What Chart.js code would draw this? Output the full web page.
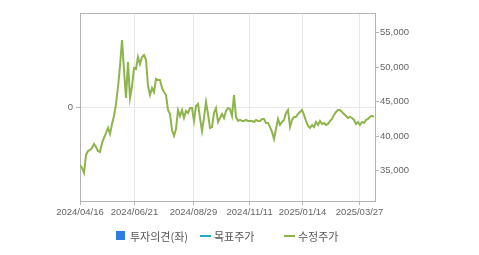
<!DOCTYPE html>
<html>
<head>
<meta charset="utf-8">
<script src="https://cdn.jsdelivr.net/npm/chart.js@4"></script>
<style>
  body { margin: 0; background: #fff; }
  #wrap { position: relative; width: 479px; height: 255px; }
  .lg { position: absolute; top: 228px; font: 11px "Noto Sans CJK KR", sans-serif; color: #555; line-height: 16px; white-space: nowrap; }
  .sq { position: absolute; left: 116px; top: 231px; width: 9px; height: 9px; background: #2f7de1; }
  .ln { position: absolute; top: 235px; width: 11px; height: 2px; }
</style>
</head>
<body>
<div id="wrap">
  <canvas id="chart" width="479" height="255"></canvas>
  <div class="sq"></div><div class="lg" style="left:130px">투자의견(좌)</div>
  <div class="ln" style="left:200px;background:#25a9c6"></div><div class="lg" style="left:214px">목표주가</div>
  <div class="ln" style="left:284px;background:#8db54b"></div><div class="lg" style="left:298px">수정주가</div>
</div>
<script>
// 수정주가, roughly every other trading day
const prices = [
  35830, 35390, 34670, 37280, 37850, 38000, 38290, 38870, 38430, 37850,
  37710, 39010, 39740, 40460, 41190, 40320, 41770, 42930, 44670, 47130,
  50170, 53940, 49600, 45540, 50750, 45540, 47270, 49880, 49740, 51480,
  50460, 51480, 51770, 51040, 47270, 45970, 46990, 46410, 48290, 48150,
  48150, 46990, 46410, 45970, 43800, 43220, 40900, 40030, 41040, 43800,
  42930, 43800, 42640, 43650, 43360, 44080, 44080, 42200, 44380, 44670,
  42640, 40750, 42640, 44960, 43220, 41190, 41330, 43360, 44080, 42060,
  42640, 43220, 42640, 43650, 44080, 43940, 42930, 45970, 42790, 42200,
  42350, 42200, 42200, 42350, 42200, 42200, 42200, 42060, 42350, 42200,
  42200, 42490, 42490, 41920, 41920, 41330, 40610, 39590, 41040, 42490,
  41620, 42060, 42350, 43360, 43800, 41330, 42350, 42790, 42790, 43220,
  43510, 43800, 43080, 42200, 41480, 41190, 41620, 41330, 42060, 41620,
  42200, 41770, 41920, 41620, 41770, 42200, 42490, 43080, 43510, 43800,
  43800, 43510, 43220, 42930, 42640, 42790, 42640, 42350, 41770, 42060,
  41620, 42060, 41920, 42350, 42490, 42790, 42930, 42790
];
const dateTicks = [0, 27.2, 56.7, 84.8, 111.3, 139.8];
const dateLabels = ['2024/04/16', '2024/06/21', '2024/08/29', '2024/11/11', '2025/01/14', '2025/03/27'];
const priceTicks = [35000, 40000, 45000, 50000, 55000];
const opinionTicks = [0];

const green = '#8db54b';
const frame = '#b4b4b4';
const gridColor = '#e8e8e8';
const tickFont = { family: 'Liberation Sans, Arial, sans-serif', size: 9.5 };

const points = prices.map((p, i) => ({ x: i, y: p }));

// top edge of the plot box (the axes draw the other three sides)
const topLine = {
  id: 'topLine',
  afterDraw(chart) {
    const a = chart.chartArea, c = chart.ctx;
    const y = Math.round(a.top) + 0.5;
    c.save();
    c.strokeStyle = frame;
    c.lineWidth = 1;
    c.beginPath();
    c.moveTo(a.left, y);
    c.lineTo(a.right + 1, y);
    c.stroke();
    c.restore();
  }
};

new Chart(document.getElementById('chart'), {
  type: 'line',
  data: {
    datasets: [{
      label: '수정주가',
      data: points,
      yAxisID: 'yR',
      borderColor: green,
      borderWidth: 2,
      pointRadius: 0,
      tension: 0,
      fill: false
    }]
  },
  options: {
    responsive: false,
    animation: false,
    layout: { padding: { top: 13, bottom: 34, left: 0, right: 0 } },
    plugins: { legend: { display: false }, tooltip: { enabled: false } },
    scales: {
      x: {
        type: 'linear',
        min: 0,
        max: 147.5,
        afterBuildTicks: (s) => { s.ticks = dateTicks.map(v => ({ value: v })); },
        afterFit: (s) => { s.height = 20; },
        grid: { color: gridColor, tickColor: frame, tickLength: 4 },
        border: { color: frame },
        ticks: {
          autoSkip: false, maxRotation: 0, padding: 2,
          color: '#666', font: tickFont,
          callback: (v, i) => dateLabels[i]
        }
      },
      yL: {
        position: 'left',
        min: -1,
        max: 1,
        afterBuildTicks: (s) => { s.ticks = opinionTicks.map(v => ({ value: v })); },
        afterFit: (s) => { s.width = 80; },
        grid: { color: gridColor, tickColor: frame, tickLength: 4 },
        border: { color: frame },
        ticks: { color: '#666', font: tickFont, padding: 3 }
      },
      yR: {
        position: 'right',
        min: 30600,
        max: 57860,
        afterBuildTicks: (s) => { s.ticks = priceTicks.map(v => ({ value: v })); },
        afterFit: (s) => { s.width = 104; },
        grid: { drawOnChartArea: false, tickColor: frame, tickLength: 4 },
        border: { color: frame },
        ticks: {
          color: '#666', font: tickFont, padding: 1,
          callback: (v) => v.toLocaleString('en-US')
        }
      }
    }
  },
  plugins: [topLine]
});
</script>
</body>
</html>
